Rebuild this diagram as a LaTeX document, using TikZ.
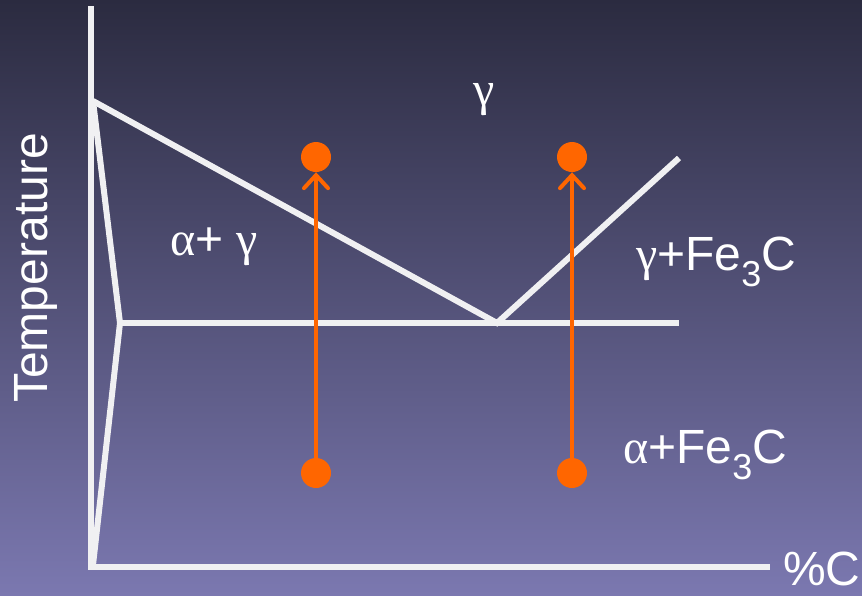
\documentclass[tikz,border=0pt]{standalone}
\usepackage{fontspec}
\setmainfont{Liberation Sans}
\newfontfamily\grk{Liberation Serif}
\usetikzlibrary{arrows.meta}
\definecolor{bgtop}{HTML}{2B2B40}
\definecolor{bgbot}{HTML}{7B78B0}
\definecolor{lineW}{HTML}{F0F0F2}
\definecolor{orng}{HTML}{FF6600}
\newcommand{\subthree}{\raisebox{-0.32em}{\fontsize{36}{36}\selectfont 3}}
\tikzset{
  phase/.style={draw=lineW, line width=6pt, line cap=butt, line join=miter},
  lbl/.style={text=white, inner sep=0pt, font=\fontsize{48}{48}\selectfont},
  dot/.style={circle, fill=orng, minimum size=30pt, inner sep=0pt},
  heat/.style={draw=orng, line width=4pt, -{Straight Barb[length=13pt,width=24pt,line width=4pt,line cap=round]}}
}
\begin{document}
\begin{tikzpicture}[x=1pt,y=-1pt]
\shade[top color=bgtop, bottom color=bgbot] (0,0) rectangle (862,595);
\useasboundingbox (0,0) rectangle (862,595);
% axes
\coordinate (ytop) at (91,6);
\coordinate (orig) at (91,568);
\coordinate (xend) at (770,567);
\draw[phase] (ytop) -- (orig);
\draw[phase] (88,567) -- (xend);
% phase boundaries
\coordinate (A) at (93,101);
\coordinate (B) at (120,323);
\coordinate (E) at (497,323);
\coordinate (R) at (679,323);
\coordinate (T) at (679,158);
\draw[phase] (A) -- (B) -- (93,565);
\draw[phase] (A) -- (E) -- (T);
\draw[phase] (B) -- (R);
% heating paths
\node[dot] (d1) at (316,473) {};
\node[dot] (u1) at (316,157) {};
\node[dot] (d2) at (572,473) {};
\node[dot] (u2) at (572,157) {};
\draw[heat] (d1.center) -- (u1.south);
\draw[heat] (d2.center) -- (u2.south);
% labels
\node[lbl] (g) at (484,100) {\grk γ};
\node[lbl] (ag) at (214,247) {{\grk α}+ {\grk γ}};
\node[lbl, anchor=west] (gf) at (636,262) {{\grk γ}+Fe\subthree C};
\node[lbl, anchor=west] (af) at (623,455) {{\grk α}+Fe\subthree C};
\node[lbl, anchor=west] (pc) at (783,569) {\%C};
\node[lbl, rotate=90] (tmp) at (36,268) {Temperature};
\end{tikzpicture}
\end{document}
